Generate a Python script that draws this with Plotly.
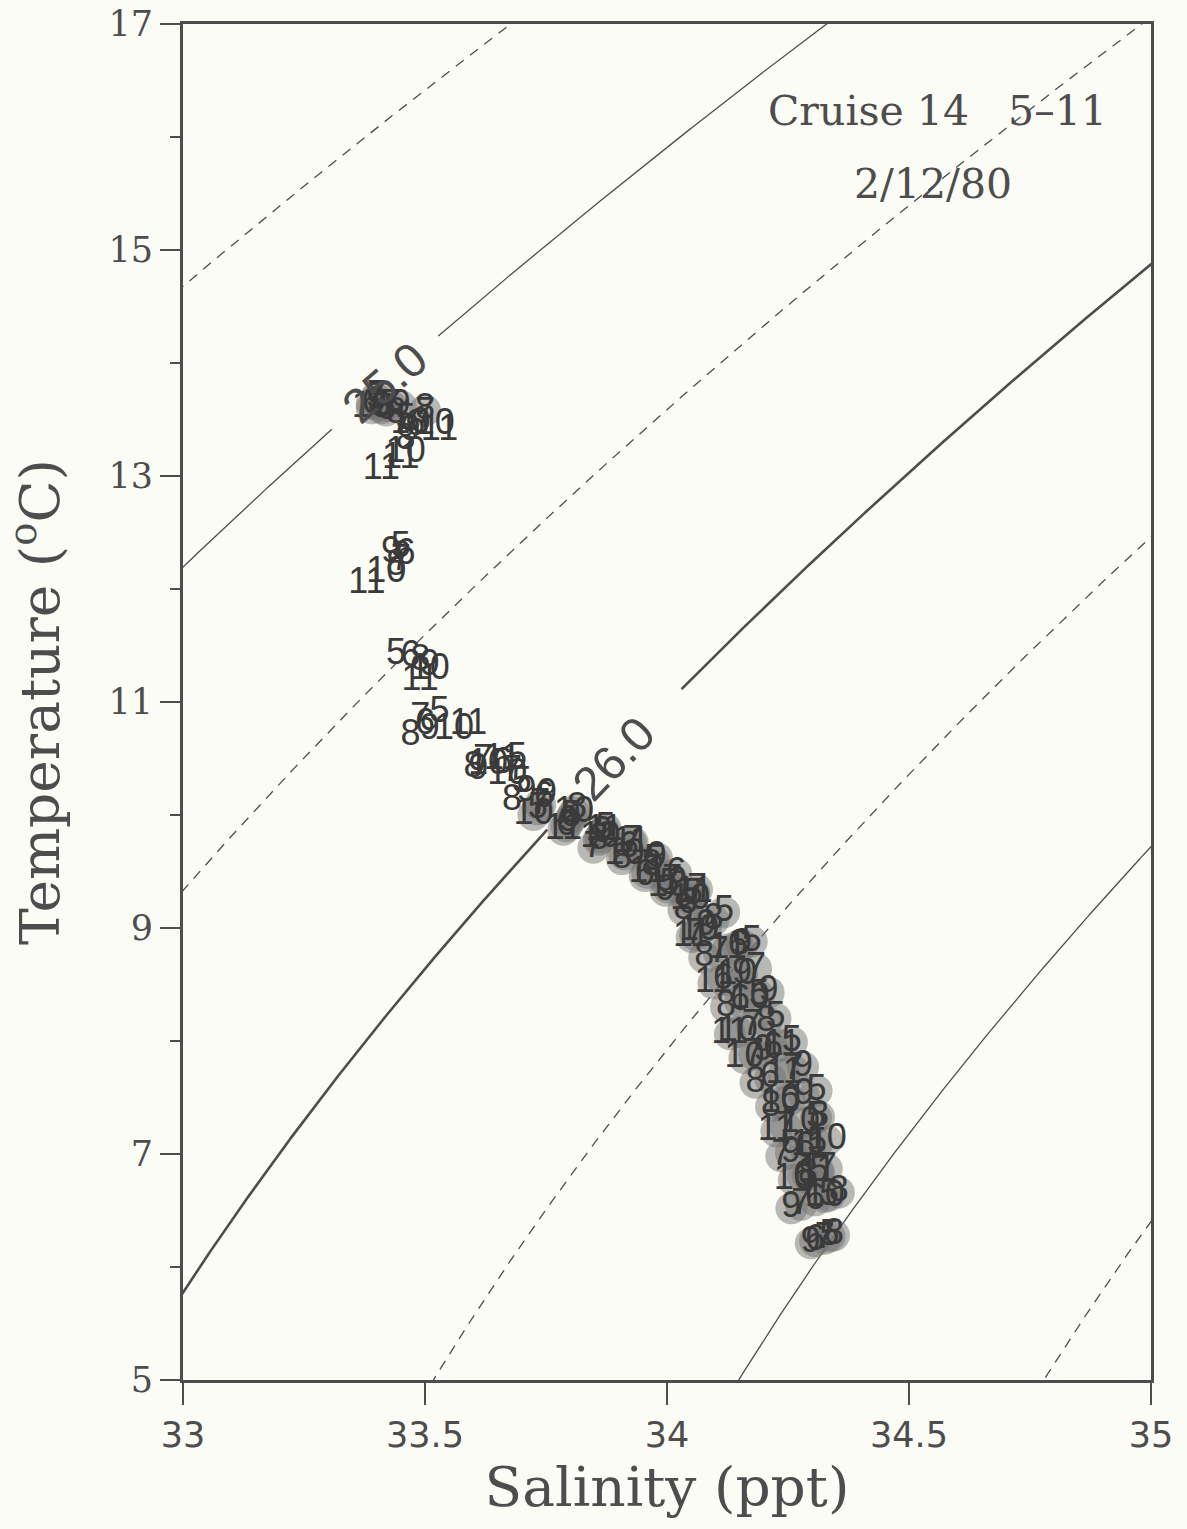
import math
import numpy as np
import plotly.graph_objects as go

# ---- CTD profiles, one pair of lists per station (salinity ppt, temperature degC)
sta5_sal = [33.40, 33.41, 33.46, 33.45, 33.44, 33.53, 33.69, 33.70,
            33.733, 33.803, 33.873, 33.973, 34.005, 34.054, 34.118, 34.175, 34.190, 34.224,
            34.258, 34.309, 34.308, 34.310, 34.314, 34.335, 34.336]
sta5_temp = [13.68, 13.62, 13.50, 12.36, 11.42, 10.90, 10.50, 10.28,
             10.05, 9.98, 9.88, 9.59, 9.38, 9.29, 9.14, 8.88, 8.40, 8.20,
             7.99, 7.56, 7.32, 7.09, 6.84, 6.63, 6.27]

sta6_sal = [33.39, 33.42, 33.48, 33.46, 33.47, 33.50, 33.66,
            33.746, 33.792, 33.921, 33.954, 34.019, 34.043, 34.146, 34.116, 34.151, 34.219,
            34.213, 34.254, 34.285, 34.281, 34.306, 34.306]
sta6_temp = [13.64, 13.58, 13.44, 12.30, 11.40, 10.80, 10.45,
             10.15, 9.90, 9.71, 9.46, 9.48, 9.21, 8.84, 8.54, 8.35, 7.93,
             7.67, 7.48, 7.05, 6.80, 6.59, 6.23]

sta7_sal = [33.40, 33.43, 33.50, 33.45, 33.49, 33.62, 33.68,
            33.738, 33.848, 33.929, 34.011, 34.062, 34.058, 34.107, 34.184, 34.175, 34.180,
            34.261, 34.246, 34.236, 34.330, 34.277, 34.326]
sta7_temp = [13.70, 13.62, 13.55, 12.25, 10.85, 10.48, 10.38,
             10.09, 9.71, 9.76, 9.42, 9.34, 8.94, 8.78, 8.64, 8.13, 7.88,
             7.74, 7.23, 6.98, 6.87, 6.55, 6.25]

sta8_sal = [33.41, 33.44, 33.50, 33.46, 33.44, 33.49, 33.47, 33.60, 33.68,
            33.814, 33.859, 33.907, 33.968, 34.034, 34.096, 34.077, 34.122, 34.205, 34.183,
            34.215, 34.314, 34.291, 34.355, 34.345]
sta8_temp = [13.60, 13.55, 13.58, 13.32, 12.20, 11.36, 10.70, 10.42, 10.12,
             10.05, 9.78, 9.61, 9.55, 9.16, 9.07, 8.74, 8.30, 8.17, 7.63,
             7.42, 7.33, 6.81, 6.66, 6.28]

sta9_sal = [33.40, 33.45, 33.47, 33.43, 33.51, 33.51, 33.61, 33.71,
            33.752, 33.797, 33.868, 33.979, 33.997, 34.081, 34.155, 34.155, 34.210, 34.199,
            34.281, 34.283, 34.256, 34.257, 34.297]
sta9_temp = [13.65, 13.62, 13.40, 12.32, 11.32, 10.75, 10.40, 10.20,
             10.18, 9.94, 9.84, 9.62, 9.33, 9.02, 8.85, 8.59, 8.43, 7.91,
             7.77, 7.52, 7.01, 6.52, 6.21]

sta10_sal = [33.39, 33.47, 33.52, 33.46, 33.42, 33.51, 33.56, 33.63, 33.67,
             33.724, 33.808, 33.862, 33.912, 34.002, 34.048, 34.066, 34.145, 34.171, 34.146,
             34.160, 34.235, 34.275, 34.330, 34.262, 34.326]
sta10_temp = [13.60, 13.46, 13.45, 13.20, 12.14, 11.28, 10.75, 10.44, 10.35,
              10.00, 10.02, 9.80, 9.65, 9.36, 9.25, 8.97, 8.58, 8.37, 8.08,
              7.85, 7.45, 7.27, 7.12, 6.77, 6.62]

sta11_sal = [33.41, 33.53, 33.45, 33.38, 33.49, 33.59, 33.66,
             33.786, 33.870, 33.926, 33.959, 34.056, 34.051, 34.126, 34.096, 34.130, 34.238,
             34.242, 34.226, 34.295, 34.311]
sta11_temp = [13.05, 13.40, 13.15, 12.04, 11.19, 10.80, 10.49,
              9.87, 9.86, 9.75, 9.49, 9.31, 8.92, 8.81, 8.51, 8.06, 7.96,
              7.71, 7.20, 7.07, 6.84]

station_ids = ["5", "6", "7", "8", "9", "10", "11"]
station_sal = [sta5_sal, sta6_sal, sta7_sal, sta8_sal, sta9_sal, sta10_sal, sta11_sal]
station_temp = [sta5_temp, sta6_temp, sta7_temp, sta8_temp, sta9_temp, sta10_temp, sta11_temp]

# sigma-t isopycnals drawn across the diagram
sigma_levels = [24.5, 25.0, 25.5, 26.0, 26.5, 27.0, 27.5]
labelled_levels = [25.0, 26.0]
label_salinity = [33.417, 33.890]      # where each label sits along its curve

x_tick_vals = [33, 33.5, 34, 34.5, 35]
x_tick_text = ["33", "33.5", "34", "34.5", "35"]
y_tick_vals = [5, 7, 9, 11, 13, 15, 17]

cruise_text = "Cruise\u00a014\u00a0\u00a0\u00a05\u201311"
date_text = "2/12/80"

# ---- figure geometry
W, H = 1187, 1529
ML, MR, MT, MB = 183, 36, 24, 149
PW, PH = W - ML - MR, H - MT - MB
S_RANGE = (33, 35)
T_RANGE = (5, 17)
INK = "#4d4d4d"
BG = "#fcfcf6"


def sigma_t(S, T):
    """UNESCO (1983) density of seawater at atmospheric pressure, minus 1000."""
    rw = (999.842594 + 6.793952e-2 * T - 9.095290e-3 * T**2 + 1.001685e-4 * T**3
          - 1.120083e-6 * T**4 + 6.536332e-9 * T**5)
    a = 0.824493 - 4.0899e-3 * T + 7.6438e-5 * T**2 - 8.2467e-7 * T**3 + 5.3875e-9 * T**4
    b = -5.72466e-3 + 1.0227e-4 * T - 1.6546e-6 * T**2
    c = 4.8314e-4
    return rw + a * S + b * S**1.5 + c * S**2 - 1000.0


def isopycnal_temperature(level, S):
    lo = np.full_like(S, 0.0)
    hi = np.full_like(S, 30.0)
    for _ in range(60):
        mid = 0.5 * (lo + hi)
        heavier = sigma_t(S, mid) > level
        lo = np.where(heavier, mid, lo)
        hi = np.where(heavier, hi, mid)
    return 0.5 * (lo + hi)


def to_px(S, T):
    px = (np.asarray(S) - S_RANGE[0]) / (S_RANGE[1] - S_RANGE[0]) * PW
    py = (np.asarray(T) - T_RANGE[0]) / (T_RANGE[1] - T_RANGE[0]) * PH
    return px, py


fig = go.Figure()
annotations = []
S_grid = np.linspace(32.9, 35.1, 881)
label_gap = {25.0: 70, 26.0: 96}

for level in sigma_levels:
    T_line = isopycnal_temperature(level, S_grid)
    dashed = (level * 2) % 2 == 1          # half-unit levels are dashed
    width = 2.6 if level == 26.0 else 1.3
    if level in labelled_levels:
        s_lab = label_salinity[labelled_levels.index(level)]
        t_lab = float(isopycnal_temperature(level, np.array([s_lab]))[0])
        px, py = to_px(S_grid, T_line)
        lx, ly = to_px(s_lab, t_lab)
        dist = np.hypot(px - lx, py - ly)
        T_line = np.where(dist < label_gap[level], np.nan, T_line)
        # local slope of the curve in screen pixels for the label angle
        t1 = isopycnal_temperature(level, np.array([s_lab - 0.02, s_lab + 0.02]))
        dx, dy = to_px(np.array([s_lab - 0.02, s_lab + 0.02]), t1)
        angle = math.degrees(math.atan2(dy[1] - dy[0], dx[1] - dx[0]))
        annotations.append(dict(
            x=s_lab, y=t_lab, xref="x", yref="y", text=f"{level:.1f}",
            showarrow=False, textangle=-angle,
            font=dict(family="Liberation Sans", size=48, color=INK),
        ))
    fig.add_trace(go.Scatter(
        x=S_grid, y=T_line, mode="lines", connectgaps=False, hoverinfo="skip",
        line=dict(color=INK, width=width, dash="10px,8px" if dashed else "solid"),
        showlegend=False,
    ))

# densely overlapping numerals (surface mixed layer and deep profile) merge into a grey smear
core_s, core_t = [], []
for sal, temp in zip(station_sal, station_temp):
    for s, t in zip(sal, temp):
        if t < 10.1 or t > 13.55:
            core_s.append(s)
            core_t.append(t)
fig.add_trace(go.Scatter(
    x=core_s, y=core_t, mode="markers", hoverinfo="skip", showlegend=False,
    marker=dict(size=32, color="rgba(115,115,115,0.5)", line=dict(width=0)),
))

# each observation is plotted as its station number
for sid, sal, temp in zip(station_ids, station_sal, station_temp):
    fig.add_trace(go.Scatter(
        x=sal, y=temp, mode="text", text=[sid] * len(sal),
        textposition="middle center", name=f"Station {sid}",
        textfont=dict(family="Liberation Sans", size=36, color="#3a3a3a"),
        showlegend=False, cliponaxis=False,
    ))

annotations += [
    dict(x=0.957, y=0.936, xref="paper", yref="paper", text=cruise_text,
         showarrow=False, xanchor="right", yanchor="middle",
         font=dict(family="DejaVu Serif", size=41, color=INK)),
    dict(x=0.775, y=0.882, xref="paper", yref="paper", text=date_text,
         showarrow=False, xanchor="center", yanchor="middle",
         font=dict(family="DejaVu Serif", size=41, color=INK)),
]

fig.update_layout(
    width=W, height=H,
    margin=dict(l=ML, r=MR, t=MT, b=MB),
    paper_bgcolor=BG, plot_bgcolor=BG,
    annotations=annotations,
    xaxis=dict(
        range=list(S_RANGE), tickvals=x_tick_vals, ticktext=x_tick_text,
        ticks="outside", ticklen=22, tickwidth=2, tickcolor=INK,
        showline=True, linewidth=3, linecolor=INK, mirror=True,
        showgrid=False, zeroline=False, automargin=False,
        tickfont=dict(family="DejaVu Sans", size=35, color=INK),
        title=dict(text="Salinity (ppt)", standoff=14,
                   font=dict(family="DejaVu Serif", size=55, color=INK)),
    ),
    yaxis=dict(
        range=list(T_RANGE), tickvals=y_tick_vals,
        ticks="outside", ticklen=20, tickwidth=2, tickcolor=INK,
        minor=dict(dtick=1, tick0=5, ticks="outside", ticklen=10, tickwidth=2, tickcolor=INK),
        showline=True, linewidth=3, linecolor=INK, mirror=True,
        showgrid=False, zeroline=False, automargin=False,
        tickfont=dict(family="DejaVu Serif", size=35, color=INK),
        title=dict(text="Temperature (<sup>o</sup>C)", standoff=32,
                   font=dict(family="DejaVu Serif", size=55, color=INK)),
    ),
)

fig.write_html("out.html")
